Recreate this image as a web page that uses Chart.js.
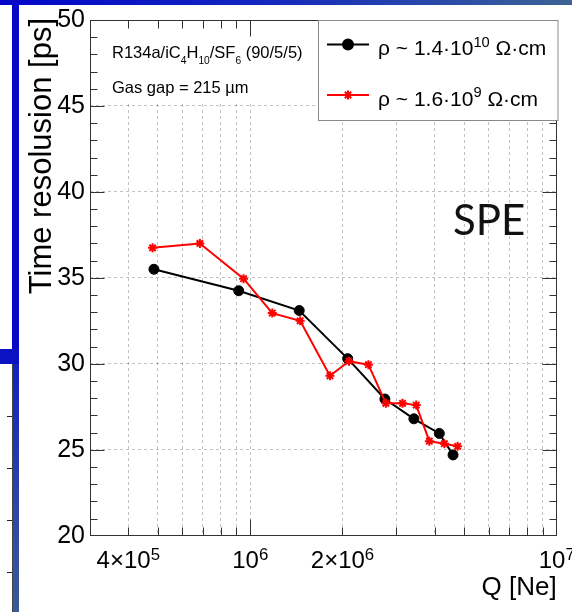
<!DOCTYPE html>
<html>
<head>
<meta charset="utf-8">
<title>Time resolution vs charge</title>
<script src="https://cdn.jsdelivr.net/npm/chart.js@4.4.1/dist/chart.umd.min.js"></script>
<style>
  html, body { margin: 0; padding: 0; background: #fff; overflow: hidden; }
  #wrap { position: relative; width: 572px; height: 612px; }
  #c { position: absolute; left: 0; top: 0; }
  .deco { position: absolute; }
</style>
</head>
<body>
<div id="wrap">
  <canvas id="c" width="572" height="612"></canvas>
  <!-- slide frame pieces -->
  <div class="deco" style="left:0;top:0;width:572px;height:5px;background:linear-gradient(90deg,#0206c8 0%,#1226bf 45%,#3d6395 100%)"></div>
  <div class="deco" style="left:12px;top:0;width:6.5px;height:349px;background:#0a0ac6"></div>
  <div class="deco" style="left:0;top:349px;width:18.5px;height:15px;background:#0b12c4"></div>
  <div class="deco" style="left:12px;top:364px;width:7px;height:248px;background:linear-gradient(180deg,#1322c0 0%,#2c44a8 55%,#3a5a98 100%);box-shadow:inset 1px 0 0 #444"></div>
  <div class="deco" style="left:7px;top:416px;width:5px;height:1px;background:#222"></div>
  <div class="deco" style="left:7px;top:468px;width:5px;height:1px;background:#222"></div>
  <div class="deco" style="left:7px;top:520px;width:5px;height:1px;background:#222"></div>
  <div class="deco" style="left:7px;top:572px;width:5px;height:1px;background:#222"></div>
</div>
<script>
// Axis ranges and ticks
const xMin = 3e5, xMax = 1e7;
const yMin = 20, yMax = 50;
const yTickValues = [20, 25, 30, 35, 40, 45, 50];
const xGridValues = [4e5, 5e5, 6e5, 7e5, 8e5, 9e5, 1e6, 2e6, 3e6, 4e6, 5e6, 6e6, 7e6, 8e6, 9e6];
const xMajorValues = [1e6, 1e7];
const xTickValues = [4e5, 1e6, 2e6, 1e7];
const xTickLabels = ['4×10^{5}', '10^{6}', '2×10^{6}', '10^{7}'];

// Measurements: charge Q [Ne] and time resolution [ps]
const highRhoQ = [4.85e5, 9.17e5, 1.445e6, 2.08e6, 2.75e6, 3.42e6, 4.14e6, 4.59e6];
const highRhoSigma = [35.5, 34.25, 33.1, 30.3, 27.95, 26.8, 25.95, 24.7];
const lowRhoQ = [4.80e5, 6.85e5, 9.51e5, 1.18e6, 1.455e6, 1.82e6, 2.10e6, 2.43e6, 2.77e6, 3.14e6, 3.48e6, 3.84e6, 4.30e6, 4.75e6];
const lowRhoSigma = [36.75, 37.0, 34.95, 32.95, 32.5, 29.3, 30.15, 29.95, 27.7, 27.7, 27.6, 25.5, 25.35, 25.2];

// Texts
const seriesLabels = ['ρ ~ 1.4·10^{10} Ω·cm', 'ρ ~ 1.6·10^{9} Ω·cm'];
const gasLabel = 'R134a/iC_{4}H_{10}/SF_{6} (90/5/5)';
const gapLabel = 'Gas gap = 215 µm';
const yTitle = 'Time resolusion [ps]';
const xTitle = 'Q [Ne]';
const tagLabel = 'SPE';

const FONT = '"Liberation Sans", Arial, Helvetica, sans-serif';
const GRID = 'rgba(0,0,0,0.24)';
const AXIS = '#333';

// Split "a^{b}c_{d}" into plain / superscript / subscript pieces
function parseRich(str) {
  const segs = [];
  const re = /([\^_])\{([^}]*)\}/g;
  let last = 0, m;
  while ((m = re.exec(str))) {
    if (m.index > last) segs.push({ t: str.slice(last, m.index) });
    segs.push({ t: m[2], pos: m[1] === '^' ? 'sup' : 'sub' });
    last = re.lastIndex;
  }
  if (last < str.length) segs.push({ t: str.slice(last) });
  return segs;
}

function drawRich(ctx, str, x, y, o) {
  const segs = parseRich(str);
  const fontFor = s => `${s}px ${FONT}`;
  let w = 0;
  segs.forEach(s => {
    s.size = s.pos === 'sup' ? o.size * (o.supScale || 0.7)
           : s.pos === 'sub' ? o.size * (o.subScale || 0.62) : o.size;
    ctx.font = fontFor(s.size);
    s.w = ctx.measureText(s.t).width;
    w += s.w;
  });
  let cx = o.align === 'center' ? x - w / 2 : o.align === 'right' ? x - w : x;
  ctx.textAlign = 'left';
  ctx.textBaseline = 'alphabetic';
  segs.forEach(s => {
    ctx.font = fontFor(s.size);
    const dy = s.pos === 'sup' ? -o.size * (o.supRise || 0.4)
             : s.pos === 'sub' ? o.size * (o.subDrop || 0.35) : 0;
    ctx.fillText(s.t, cx, y + dy);
    cx += s.w;
  });
}

const highRhoData = highRhoQ.map((q, i) => ({ x: q, y: highRhoSigma[i] }));
const lowRhoData = lowRhoQ.map((q, i) => ({ x: q, y: lowRhoSigma[i] }));

// Frame, inward tick marks, texts and legend
const decorPlugin = {
  id: 'decor',
  beforeDatasetsDraw(chart) {
    const { ctx, chartArea: a } = chart;
    // blank pave behind the gas description
    ctx.save();
    ctx.fillStyle = '#fff';
    ctx.fillRect(Math.floor(a.left) + 1, Math.floor(a.top) + 1, 318 - Math.floor(a.left) - 1, 103 - Math.floor(a.top) - 1);
    ctx.restore();
  },
  afterDatasetsDraw(chart) {
    const { ctx, chartArea: a, scales: { x, y } } = chart;
    const L = Math.floor(a.left) + 0.5, R = Math.floor(a.right) + 0.5;
    const T = Math.floor(a.top) + 0.5, B = Math.floor(a.bottom) + 0.5;
    ctx.save();
    ctx.strokeStyle = AXIS;
    ctx.lineWidth = 1;
    ctx.setLineDash([]);
    ctx.strokeRect(L, T, R - L, B - T);

    ctx.beginPath();
    for (let v = yMin + 1; v < yMax; v++) {
      const py = Math.round(y.getPixelForValue(v)) + 0.5;
      const len = v % 5 === 0 ? 14 : 7;
      ctx.moveTo(L, py); ctx.lineTo(L + len, py);
      ctx.moveTo(R, py); ctx.lineTo(R - len, py);
    }
    xGridValues.forEach(v => {
      const px = Math.round(x.getPixelForValue(v)) + 0.5;
      const len = xMajorValues.includes(v) ? 16 : 8;
      ctx.moveTo(px, B); ctx.lineTo(px, B - len);
      ctx.moveTo(px, T); ctx.lineTo(px, T + len);
    });
    ctx.stroke();

    // x tick labels
    ctx.fillStyle = '#000';
    xTickValues.forEach((v, i) => {
      drawRich(ctx, xTickLabels[i], x.getPixelForValue(v), 568, { size: 24, align: 'center', supScale: 0.7, supRise: 0.32 });
    });

    // axis titles
    ctx.font = `31px ${FONT}`;
    ctx.textAlign = 'right';
    ctx.textBaseline = 'alphabetic';
    ctx.save();
    ctx.translate(50.5, 18);
    ctx.rotate(-Math.PI / 2);
    ctx.fillText(yTitle, 0, 0);
    ctx.restore();
    ctx.font = `26px ${FONT}`;
    ctx.textAlign = 'right';
    ctx.fillText(xTitle, a.right, 595);

    // gas description
    drawRich(ctx, gasLabel, 112, 58, { size: 16.5, subScale: 0.62, subDrop: 0.35 });
    drawRich(ctx, gapLabel, 112, 93, { size: 16.5 });

    // tag
    ctx.font = '42px Lato, "Open Sans", sans-serif';
    ctx.textAlign = 'left';
    ctx.fillStyle = '#111';
    ctx.fillText(tagLabel, 453, 235);

    // legend
    const bx = 318.5, by = T, bw = 239.5, bh = 100;
    ctx.fillStyle = '#fff';
    ctx.fillRect(bx, by, bw, bh);
    ctx.strokeStyle = '#8a8a8a';
    ctx.strokeRect(bx, by, bw, bh);
    const rows = [44.5, 95];
    const bases = [55, 105.5];
    chart.data.datasets.forEach((ds, i) => {
      const ly = rows[i];
      ctx.strokeStyle = ds.borderColor;
      ctx.fillStyle = ds.backgroundColor;
      ctx.lineWidth = ds.borderWidth;
      ctx.beginPath();
      ctx.moveTo(327, ly); ctx.lineTo(369, ly);
      ctx.stroke();
      Chart.helpers.drawPoint(ctx, { pointStyle: ds.pointStyle, rotation: 0, radius: ds.pointRadius, borderWidth: ds.pointBorderWidth || 1 }, 348, ly);
      ctx.fillStyle = '#000';
      drawRich(ctx, seriesLabels[i], 378, bases[i], { size: 21, supScale: 0.7, supRise: 0.4 });
    });
    ctx.restore();
  }
};

new Chart(document.getElementById('c'), {
  type: 'scatter',
  data: {
    datasets: [
      {
        label: seriesLabels[0],
        data: highRhoData,
        showLine: true,
        borderColor: '#000',
        backgroundColor: '#000',
        borderWidth: 2,
        pointStyle: 'circle',
        pointRadius: 5,
        pointBorderWidth: 1,
        order: 2
      },
      {
        label: seriesLabels[1],
        data: lowRhoData,
        showLine: true,
        borderColor: '#ff0000',
        backgroundColor: '#ff0000',
        borderWidth: 2,
        pointStyle: 'star',
        pointRadius: 4.5,
        pointBorderWidth: 2,
        order: 1
      }
    ]
  },
  options: {
    responsive: false,
    animation: false,
    devicePixelRatio: 1,
    layout: { padding: { left: 0, top: 19.5, right: 15.3, bottom: 0 } },
    plugins: { legend: { display: false }, tooltip: { enabled: false } },
    scales: {
      x: {
        type: 'logarithmic',
        min: xMin,
        max: xMax,
        afterBuildTicks: s => { s.ticks = xGridValues.map(v => ({ value: v })); },
        ticks: { display: false },
        grid: { color: GRID, lineWidth: 1, drawTicks: false },
        border: { display: false, dash: [3, 3] },
        afterFit: s => { s.height = 76.3; }
      },
      y: {
        min: yMin,
        max: yMax,
        afterBuildTicks: s => { s.ticks = yTickValues.map(v => ({ value: v })); },
        ticks: { font: { family: FONT, size: 25 }, color: '#000', padding: 5, callback: v => String(v) },
        grid: {
          color: c => (c.tick && (c.tick.value === yMin || c.tick.value === yMax)) ? 'rgba(0,0,0,0)' : GRID,
          lineWidth: 1,
          drawTicks: false
        },
        border: { display: false, dash: [3, 3] },
        afterFit: s => { s.width = 90; }
      }
    }
  },
  plugins: [decorPlugin]
});
</script>
</body>
</html>
